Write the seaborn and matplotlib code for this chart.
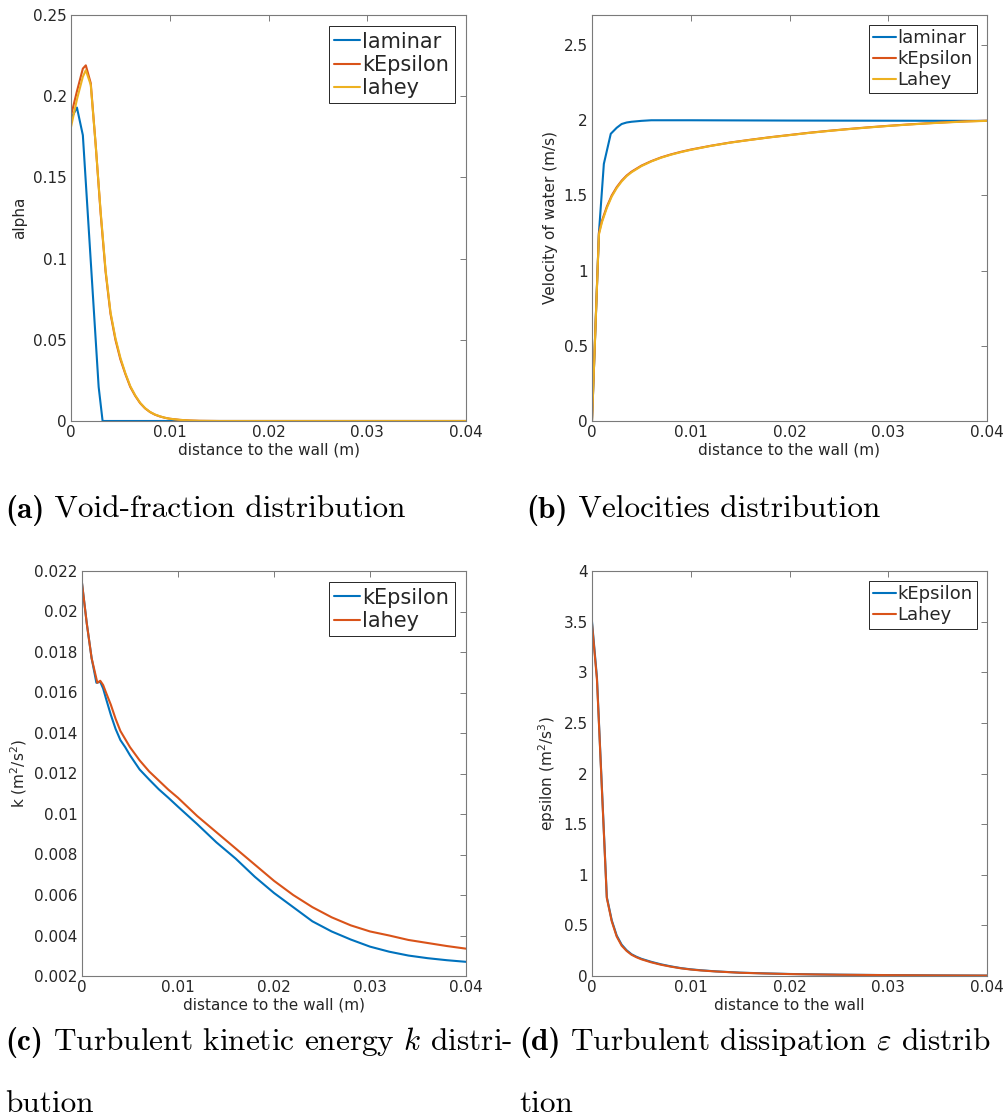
import matplotlib
matplotlib.use("Agg")
import matplotlib.pyplot as plt
import numpy as np
import pandas as pd
import seaborn as sns

# ---------------- void fraction (alpha) ----------------
alpha_x_laminar = [0.0, 0.0006, 0.0012, 0.0028, 0.0032, 0.04]
alpha_laminar = [0.186, 0.193, 0.176, 0.021, 0.0, 0.0]

alpha_x_turb = [0.0, 0.0006, 0.0012, 0.0015, 0.002, 0.0025, 0.003, 0.0035, 0.004,
                0.0045, 0.005, 0.0055, 0.006, 0.0065, 0.007, 0.0075, 0.008, 0.0085,
                0.009, 0.0095, 0.010, 0.011, 0.012, 0.013, 0.015, 0.04]
alpha_kepsilon = [0.188, 0.203, 0.217, 0.219, 0.208, 0.170, 0.128, 0.092, 0.066,
                  0.050, 0.038, 0.029, 0.021, 0.0155, 0.011, 0.0078, 0.0055, 0.0039,
                  0.0028, 0.0020, 0.0014, 0.0007, 0.0003, 0.0001, 0.0, 0.0]
alpha_lahey = [0.181, 0.198, 0.212, 0.216, 0.207, 0.170, 0.129, 0.093, 0.067,
               0.051, 0.039, 0.0295, 0.0215, 0.0158, 0.0112, 0.0079, 0.0056, 0.0040,
               0.0029, 0.0020, 0.0014, 0.0007, 0.0003, 0.0001, 0.0, 0.0]

# ---------------- water velocity ----------------
vel_x_laminar = [0.0, 0.0007, 0.0012, 0.0019, 0.0025, 0.003, 0.0035, 0.004, 0.005,
                 0.006, 0.01, 0.02, 0.03, 0.04]
vel_laminar = [0.0, 1.25, 1.71, 1.91, 1.95, 1.975, 1.985, 1.99, 1.996,
               2.0, 2.0, 1.998, 1.997, 1.996]

vel_x_turb = [0.0, 0.0007, 0.001, 0.0015, 0.002, 0.0025, 0.003, 0.0035, 0.004,
              0.005, 0.006, 0.007, 0.008, 0.009, 0.010, 0.012, 0.014, 0.016, 0.018,
              0.020, 0.022, 0.024, 0.026, 0.028, 0.030, 0.032, 0.034, 0.036, 0.038,
              0.040]
vel_kepsilon = [0.0, 1.25, 1.33, 1.425, 1.50, 1.555, 1.598, 1.632, 1.658,
                1.698, 1.728, 1.753, 1.773, 1.79, 1.805, 1.83, 1.852, 1.87, 1.887,
                1.902, 1.917, 1.93, 1.942, 1.953, 1.963, 1.972, 1.98, 1.987, 1.993,
                1.997]
vel_lahey = [0.0, 1.24, 1.32, 1.417, 1.493, 1.549, 1.593, 1.628, 1.654,
             1.695, 1.726, 1.751, 1.771, 1.788, 1.803, 1.829, 1.851, 1.869, 1.886,
             1.901, 1.916, 1.929, 1.941, 1.952, 1.962, 1.971, 1.979, 1.986, 1.992,
             1.996]

# ---------------- turbulent kinetic energy k ----------------
k_x_kepsilon = [0.0, 0.0005, 0.001, 0.0015, 0.0019, 0.0022, 0.0025, 0.003, 0.0035,
                0.004, 0.0045, 0.005, 0.006, 0.007, 0.008, 0.009, 0.010, 0.012,
                0.014, 0.016, 0.018, 0.020, 0.022, 0.024, 0.026, 0.028, 0.030,
                0.032, 0.034, 0.036, 0.038, 0.040]
k_kepsilon = [0.0214, 0.0194, 0.0177, 0.01648, 0.01653, 0.0162, 0.0157, 0.0149,
              0.0142, 0.01365, 0.0133, 0.0129, 0.0122, 0.0117, 0.01122, 0.0108,
              0.01036, 0.0095, 0.0086, 0.0078, 0.0069, 0.0061, 0.0054, 0.0047,
              0.0042, 0.0038, 0.00345, 0.0032, 0.00301, 0.00288, 0.00278, 0.0027]
k_x_lahey = [0.0, 0.0005, 0.001, 0.0016, 0.0019, 0.0022, 0.0025, 0.003, 0.0035,
             0.004, 0.0045, 0.005, 0.006, 0.007, 0.008, 0.009, 0.010, 0.012,
             0.014, 0.016, 0.018, 0.020, 0.022, 0.024, 0.026, 0.028, 0.030,
             0.032, 0.034, 0.036, 0.038, 0.040]
k_lahey = [0.0214, 0.0194, 0.0177, 0.01648, 0.01658, 0.01637, 0.0160, 0.0154,
           0.0147, 0.0141, 0.0137, 0.0133, 0.01265, 0.0121, 0.01165, 0.0112,
           0.0108, 0.0099, 0.0091, 0.0083, 0.0075, 0.0067, 0.0060, 0.0054,
           0.0049, 0.0045, 0.0042, 0.0040, 0.00378, 0.00363, 0.00348, 0.00335]

# ---------------- turbulent dissipation epsilon ----------------
eps_x = [0.0, 0.0005, 0.0015, 0.002, 0.0025, 0.003, 0.0035, 0.004, 0.0045, 0.005,
         0.006, 0.007, 0.008, 0.009, 0.010, 0.011, 0.0125, 0.015, 0.0175, 0.02,
         0.0225, 0.025, 0.03, 0.035, 0.04]
eps_kepsilon = [3.5, 2.95, 0.78, 0.55, 0.40, 0.31, 0.255, 0.215, 0.19, 0.17,
                0.14, 0.115, 0.095, 0.078, 0.066, 0.057, 0.046, 0.033, 0.026, 0.020,
                0.016, 0.013, 0.009, 0.006, 0.004]
eps_lahey = [3.48, 2.93, 0.77, 0.54, 0.39, 0.30, 0.248, 0.21, 0.185, 0.165,
             0.135, 0.111, 0.092, 0.076, 0.064, 0.055, 0.045, 0.032, 0.025, 0.019,
             0.0155, 0.0125, 0.0085, 0.0058, 0.004]

# ---------------- axis ticks ----------------
x_ticks = [0.0, 0.01, 0.02, 0.03, 0.04]
x_tick_labels = ["0", "0.01", "0.02", "0.03", "0.04"]
alpha_ticks = [0.0, 0.05, 0.10, 0.15, 0.20, 0.25]
alpha_tick_labels = ["0", "0.05", "0.1", "0.15", "0.2", "0.25"]
vel_ticks = [0.0, 0.5, 1.0, 1.5, 2.0, 2.5]
vel_tick_labels = ["0", "0.5", "1", "1.5", "2", "2.5"]
k_ticks = [0.002, 0.004, 0.006, 0.008, 0.010, 0.012, 0.014, 0.016, 0.018, 0.020, 0.022]
k_tick_labels = ["0.002", "0.004", "0.006", "0.008", "0.01", "0.012", "0.014",
                 "0.016", "0.018", "0.02", "0.022"]
eps_ticks = [0.0, 0.5, 1.0, 1.5, 2.0, 2.5, 3.0, 3.5, 4.0]
eps_tick_labels = ["0", "0.5", "1", "1.5", "2", "2.5", "3", "3.5", "4"]

BLUE = "#0072BD"
RED = "#D95319"
YELLOW = "#EDB120"
TXT = "#262626"
SPINE = "#7a7a7a"

sns.set_style("white")
plt.rcParams["font.family"] = ["DejaVu Sans"]

W, H = 1007, 1117
fig = plt.figure(figsize=(W / 100, H / 100), dpi=100)


def add_ax(left, top, right, bottom):
    return fig.add_axes([left / W, 1 - bottom / H, (right - left) / W, (bottom - top) / H])


def style(ax, xlabel, ylabel, yticks, ylabels, ylim):
    ax.set_xlim(0, 0.04)
    ax.set_ylim(*ylim)
    ax.set_xticks(x_ticks)
    ax.set_xticklabels(x_tick_labels)
    ax.set_yticks(yticks)
    ax.set_yticklabels(ylabels)
    ax.tick_params(direction="in", top=True, right=True, length=4, width=0.7,
                   color=SPINE, labelsize=11, labelcolor=TXT, pad=3)
    for s in ax.spines.values():
        s.set_color(SPINE)
        s.set_linewidth(0.8)
    ax.set_xlabel(xlabel, fontsize=11, color=TXT, labelpad=2)
    ax.set_ylabel(ylabel, fontsize=11, color=TXT, labelpad=4)


def draw(ax, x, y, color, label):
    df = pd.DataFrame({"x": x, "y": y})
    sns.lineplot(data=df, x="x", y="y", ax=ax, color=color, linewidth=1.5,
                 label=label, sort=False, estimator=None)


def legend(ax, size):
    leg = ax.legend(loc="upper right", fontsize=size, frameon=True, fancybox=False,
                    edgecolor=TXT, framealpha=1, borderaxespad=0.55,
                    handlelength=1.25, handletextpad=0.1, labelspacing=0.15,
                    borderpad=0.25)
    leg.get_frame().set_linewidth(0.7)


# (a) void fraction
ax = add_ax(71, 15, 466, 421)
draw(ax, alpha_x_laminar, alpha_laminar, BLUE, "laminar")
draw(ax, alpha_x_turb, alpha_kepsilon, RED, "kEpsilon")
draw(ax, alpha_x_turb, alpha_lahey, YELLOW, "lahey")
style(ax, "distance to the wall (m)", "alpha", alpha_ticks, alpha_tick_labels, (0, 0.25))
legend(ax, 15)

# (b) velocities
ax = add_ax(592, 15, 987, 421)
draw(ax, vel_x_laminar, vel_laminar, BLUE, "laminar")
draw(ax, vel_x_turb, vel_kepsilon, RED, "kEpsilon")
draw(ax, vel_x_turb, vel_lahey, YELLOW, "Lahey")
style(ax, "distance to the wall (m)", "Velocity of water (m/s)", vel_ticks, vel_tick_labels, (0, 2.7))
legend(ax, 13)

# (c) turbulent kinetic energy
ax = add_ax(82, 571, 466, 976)
draw(ax, k_x_kepsilon, k_kepsilon, BLUE, "kEpsilon")
draw(ax, k_x_lahey, k_lahey, RED, "lahey")
style(ax, "distance to the wall (m)", r"k (m$^2$/s$^2$)", k_ticks, k_tick_labels, (0.002, 0.022))
legend(ax, 15)

# (d) turbulent dissipation
ax = add_ax(592, 571, 987, 976)
draw(ax, eps_x, eps_kepsilon, BLUE, "kEpsilon")
draw(ax, eps_x, eps_lahey, RED, "Lahey")
style(ax, "distance to the wall", r"epsilon (m$^2$/s$^3$)", eps_ticks, eps_tick_labels, (0, 4))
legend(ax, 13)

# sub-figure captions: bold tag followed by roman text
renderer = fig.canvas.get_renderer()
CAP_SIZE = 22.5


def caption(x_px, y_px, tag, body):
    t = fig.text(x_px / W, 1 - y_px / H, tag, fontfamily="cmb10", fontsize=CAP_SIZE,
                 color="black", va="baseline")
    w = t.get_window_extent(renderer=renderer).width
    fig.text((x_px + w) / W, 1 - y_px / H, body, fontfamily="cmr10", math_fontfamily="cm",
             fontsize=CAP_SIZE, color="black", va="baseline")


def plain(x_px, y_px, body):
    fig.text(x_px / W, 1 - y_px / H, body, fontfamily="cmr10", fontsize=CAP_SIZE,
             color="black", va="baseline")


caption(5, 518, "(a)", " Void-fraction distribution")
caption(526, 518, "(b)", " Velocities distribution")
caption(5, 1050, "(c)", r" Turbulent kinetic energy $k$ distri-")
plain(5, 1112, "bution")
caption(519, 1050, "(d)", r" Turbulent dissipation $\varepsilon$ distrib")
plain(519, 1112, "tion")

fig.savefig("out.png", dpi=100)
